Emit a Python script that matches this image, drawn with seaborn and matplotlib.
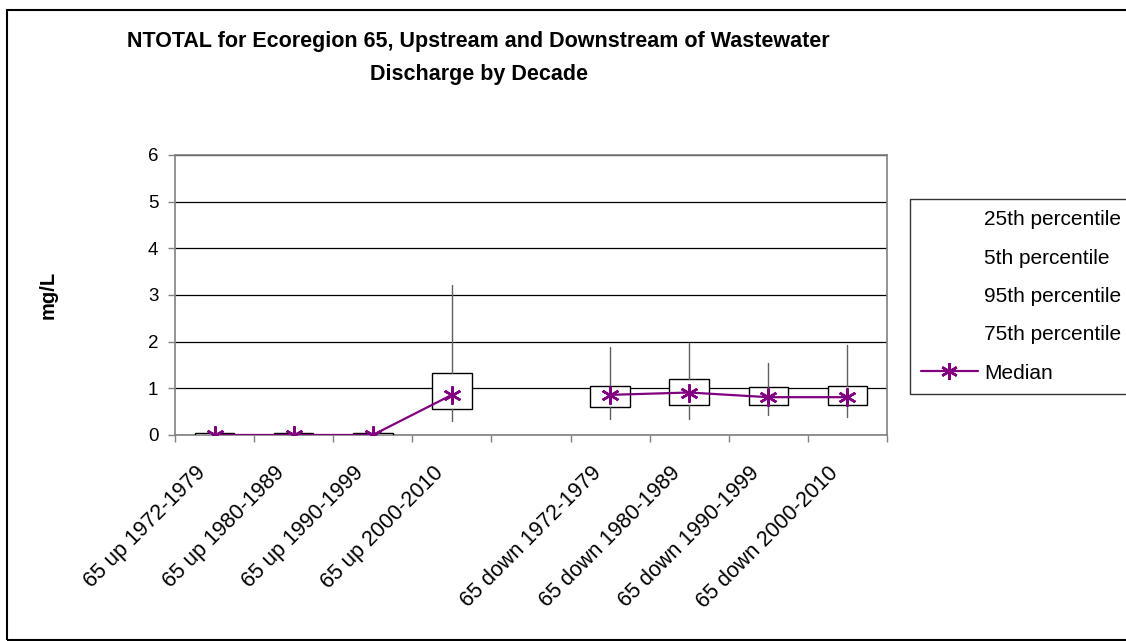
import matplotlib
matplotlib.use("Agg")
import matplotlib.pyplot as plt
from matplotlib.lines import Line2D
from matplotlib.patches import Rectangle
import numpy as np
import pandas as pd
import seaborn as sns

## Data (mg/L); the empty slot separates up / down
categories = ["65 up 1972-1979", "65 up 1980-1989", "65 up 1990-1999", "65 up 2000-2010", "",
              "65 down 1972-1979", "65 down 1980-1989", "65 down 1990-1999", "65 down 2000-2010"]
groups = ["up", "up", "up", "up", None, "down", "down", "down", "down"]
p5 = [0.0, 0.0, 0.0, 0.29, None, 0.34, 0.34, 0.42, 0.38]
p25 = [0.0, 0.0, 0.0, 0.55, None, 0.59, 0.64, 0.64, 0.64]
median = [0.0, 0.0, 0.0, 0.86, None, 0.86, 0.91, 0.81, 0.81]
p75 = [0.04, 0.04, 0.04, 1.32, None, 1.06, 1.19, 1.02, 1.06]
p95 = [0.04, 0.04, 0.04, 3.21, None, 1.88, 1.98, 1.54, 1.93]

sns.set_style("white")
plt.rcParams["font.family"] = ["Liberation Sans", "DejaVu Sans"]
plt.rcParams["text.color"] = "black"
plt.rcParams["axes.labelcolor"] = "black"

fig = plt.figure(figsize=(11.26, 6.41), dpi=100)
ax = fig.add_axes([0.1554, 0.3214, 0.6323, 0.4368])

## Boxes: 25th-75th box, 5th-95th whiskers (no caps, no median bar)
stats = []
positions = []
for i in range(len(categories)):
    if p5[i] is None:
        continue
    stats.append(dict(whislo=p5[i], q1=p25[i], med=median[i], q3=p75[i], whishi=p95[i]))
    positions.append(i)
ax.bxp(stats, positions=positions, widths=0.5, showfliers=False, showcaps=False,
       patch_artist=True,
       boxprops=dict(facecolor="white", edgecolor="black", linewidth=1.0),
       whiskerprops=dict(color="#606060", linewidth=1.0),
       medianprops=dict(linewidth=0), zorder=3)

## Median line with asterisk markers through seaborn
df = pd.DataFrame({"pos": np.arange(len(categories)), "median": median, "group": groups}).dropna()
sns.lineplot(data=df, x="pos", y="median", hue="group", palette=["#800080", "#800080"],
             marker=(6, 2, 0), markersize=13, markeredgewidth=1.8, markeredgecolor="#800080",
             linewidth=1.6, legend=False, ax=ax, zorder=4)

ax.set_xlim(-0.5, len(categories) - 0.5)
ax.set_ylim(0, 6)
ax.set_yticks(range(0, 7))
ax.yaxis.grid(True, color="black", linewidth=0.9)
ax.set_axisbelow(True)
# label anchors sit a little left of each category centre, like Excel's rotated labels
ax.set_xticks(np.arange(len(categories)) - 0.15)
ax.set_xticklabels(categories, rotation=45, ha="right", va="center", rotation_mode="anchor", fontsize=15.5)
ax.set_xticks(np.arange(-0.5, len(categories), 1.0), minor=True)
ax.tick_params(axis="x", which="major", length=0, pad=25, labelcolor="black")
ax.tick_params(axis="x", which="minor", length=5, color="#808080", width=1, direction="out", bottom=True)
ax.tick_params(axis="y", length=5, color="#808080", width=1, direction="out", left=True,
               labelsize=13.5, pad=7, labelcolor="black")
ax.set_xlabel("")
ax.set_ylabel("")
for side in ["top", "right", "left", "bottom"]:
    ax.spines[side].set_visible(True)
    ax.spines[side].set_color("#808080")
    ax.spines[side].set_linewidth(1.2)

fig.text(0.043, 0.54, "mg/L", rotation=90, ha="center", va="center", fontsize=14.5, fontweight="bold")
fig.text(0.425, 0.952, "NTOTAL for Ecoregion 65, Upstream and Downstream of Wastewater\nDischarge by Decade",
         ha="center", va="top", fontsize=15.5, fontweight="bold", linespacing=1.75)

## Legend: percentile entries have no visible symbol
handles = [Line2D([], [], linestyle="none", marker=None) for _ in range(4)]
handles.append(Line2D([], [], color="#800080", linewidth=1.6, marker=(6, 2, 0), markersize=12,
                      markeredgewidth=1.8, markeredgecolor="#800080"))
labels = ["25th percentile", "5th percentile", "95th percentile", "75th percentile", "Median"]
leg = fig.legend(handles, labels, loc="upper left", bbox_to_anchor=(0.808, 0.69),
                 frameon=True, fancybox=False, fontsize=15, handlelength=2.7,
                 labelspacing=0.93, borderpad=0.55, handletextpad=0.3, borderaxespad=0)
leg.get_frame().set_edgecolor("black")
leg.get_frame().set_linewidth(1.0)

## Outer chart border
fig.patches.append(Rectangle((0.006, 0.001), 1.2, 0.983, transform=fig.transFigure,
                             fill=False, edgecolor="black", linewidth=1.5))

fig.savefig("out.png", dpi=100)
